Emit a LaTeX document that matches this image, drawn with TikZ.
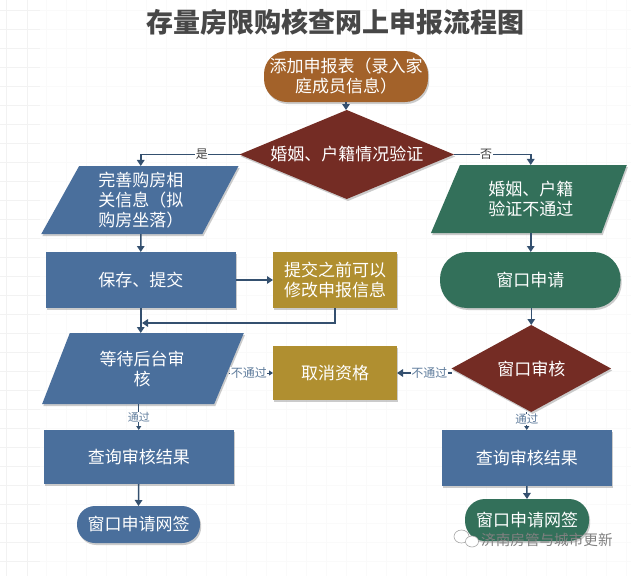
\documentclass[tikz,border=0pt]{standalone}
\usepackage{fontspec}
\setmainfont{Noto Sans CJK SC}
\usetikzlibrary{arrows.meta,shapes.geometric,shadows}
\definecolor{cblue}{HTML}{4A6F9C}
\definecolor{cgreen}{HTML}{33705A}
\definecolor{cred}{HTML}{742C24}
\definecolor{cgold}{HTML}{B08F30}
\definecolor{corange}{HTML}{A3622A}
\definecolor{cline}{HTML}{34506F}
\definecolor{clabel}{HTML}{5F7C9C}
\tikzset{
  softshadow/.style={drop shadow={shadow xshift=1.2pt,shadow yshift=-2pt,fill=black!40,opacity=.5}},
  boxbase/.style={softshadow,text=white,font=\fontsize{17}{20}\selectfont,align=center,inner sep=0pt,outer sep=0pt},
  rectbox/.style n args={3}{boxbase,rectangle,fill=#1,minimum width=#2,minimum height=#3},
  pillbox/.style n args={4}{rectbox={#1}{#2}{#3},rounded corners=#4},
  diabox/.style n args={3}{boxbase,diamond,aspect=2.4,fill=#1,minimum width=#2,minimum height=#3},
  parabox/.style n args={5}{boxbase,trapezium,trapezium stretches=true,fill=#1,minimum width=#2,minimum height=#3,trapezium left angle=#4,trapezium right angle=#5},
  conn/.style={draw=cline,line width=1.5pt,-{Triangle[length=6pt,width=7.5pt]}},
  thinconn/.style={draw=cline,line width=1pt,-{Triangle[length=4pt,width=5pt]}},
  yesno/.style={font=\fontsize{12}{13}\selectfont,text=black!75,fill=white,inner sep=0.5pt},
  edgelabel/.style={font=\fontsize{12}{13}\selectfont,text=clabel,fill=white,inner sep=0.5pt},
}
\begin{document}
\begin{tikzpicture}[x=1pt,y=-1pt]
\useasboundingbox (0,0) rectangle (631,576);
\fill[white] (0,0) rectangle (631,576);
\foreach \gx in {46,66,...,630} \draw[black!2,line width=.5pt] (\gx,0) -- (\gx,576);
\foreach \gy in {10,29,...,575} \draw[black!2,line width=.5pt] (0,\gy) -- (631,\gy);
\foreach \gx in {6,27} \draw[black!5,line width=.6pt] (\gx,0) -- (\gx,576);
\foreach \gy in {10,29,...,575} \draw[black!5,line width=.6pt] (0,\gy) -- (40,\gy);
% title
\node[font=\fontsize{27}{30}\selectfont\bfseries,text=black!72] (title) at (335.5,22) {存量房限购核查网上申报流程图};
% nodes
\node[pillbox={corange}{164pt}{51pt}{23pt}] (start) at (346,76.5) {添加申报表（录入家\\庭成员信息）};
\node[diabox={cred}{214.5pt}{89pt}] (d1) at (346.75,154.5) {婚姻、户籍情况验证};
\node[parabox={cblue}{197.5pt}{68pt}{65}{114}] (p1) at (140.75,200) {完善购房相\\关信息（拟\\购房坐落）};
\node[parabox={cgreen}{196pt}{68pt}{64}{113}] (p2) at (530.75,199) {婚姻、户籍\\验证不通过};
\node[rectbox={cblue}{190.5pt}{56pt}] (save) at (140.75,280) {保存、提交};
\node[rectbox={cgold}{124pt}{56pt}] (edit) at (335,280) {提交之前可以\\修改申报信息};
\node[pillbox={cgreen}{180.5pt}{56pt}{27pt}] (apply) at (530.25,280) {窗口申请};
\node[parabox={cblue}{202pt}{71pt}{65.5}{116}] (wait) at (142,368.5) {等待后台审\\核};
\node[rectbox={cgold}{124pt}{54pt}] (cancel) at (335,373) {取消资格};
\node[diabox={cred}{159.5pt}{87pt}] (d2) at (531.25,368.5) {窗口审核};
\node[rectbox={cblue}{190.5pt}{54pt}] (q1) at (138.75,457) {查询审核结果};
\node[rectbox={cblue}{170.5pt}{56pt}] (q2) at (526.75,458) {查询审核结果};
\node[pillbox={cblue}{123pt}{37pt}{18pt}] (s1) at (138.5,524.5) {窗口申请网签};
\node[pillbox={cgreen}{124pt}{42pt}{20pt}] (s2) at (527,520) {窗口申请网签};
\coordinate (joinpt) at (142,323);
% connectors
\draw[conn] (start.south) -- (start.south |- d1.north);
\draw[conn] (d1.west) -| (p1.north) node[pos=.19,yesno] (yes) {是};
\draw[conn] (d1.east) -| (p2.north) node[pos=.21,yesno] (no) {否};
\draw[conn] (p1.south) -- (save.north);
\draw[conn] (p2.south) -- (p2.south |- apply.north);
\draw[conn] (save.east) -- (edit.west);
\draw[conn] (save.south) -- (save.south |- wait.north);
\draw[conn] (edit.south) |- (joinpt);
\draw[conn] (apply.south -| d2.north) -- (d2.north);
\draw[thinconn] (wait.east |- cancel.west) -- (cancel.west) node[pos=.45,edgelabel] (nop1) {不通过};
\draw[conn] (d2.west |- cancel.east) -- (cancel.east) node[pos=.07,anchor=east,edgelabel,xshift=1pt] (nop2) {不通过};
\draw[thinconn] (q1.north |- wait.south) -- (q1.north) node[pos=.5,edgelabel,font=\fontsize{11}{12}\selectfont] (pass1) {通过};
\draw[thinconn] (q2.north |- d2.south) -- (q2.north) node[pos=.42,edgelabel,font=\fontsize{11.5}{12}\selectfont] (pass2) {通过};
\draw[conn] (q1.south) -- (s1.north);
\draw[conn] (q2.south) -- (s2.north);
% watermark
\fill[white,draw=black!35,line width=.6pt] (461.5,536.5) ellipse (7.5pt and 6.5pt);
\fill[white,draw=black!35,line width=.6pt] (472,541.5) ellipse (6.5pt and 5.5pt);
\node[font=\fontsize{14.6}{16}\selectfont,text=black!50,anchor=west,inner sep=0pt] (mark) at (481,540) {济南房管与城市更新};
\end{tikzpicture}
\end{document}
